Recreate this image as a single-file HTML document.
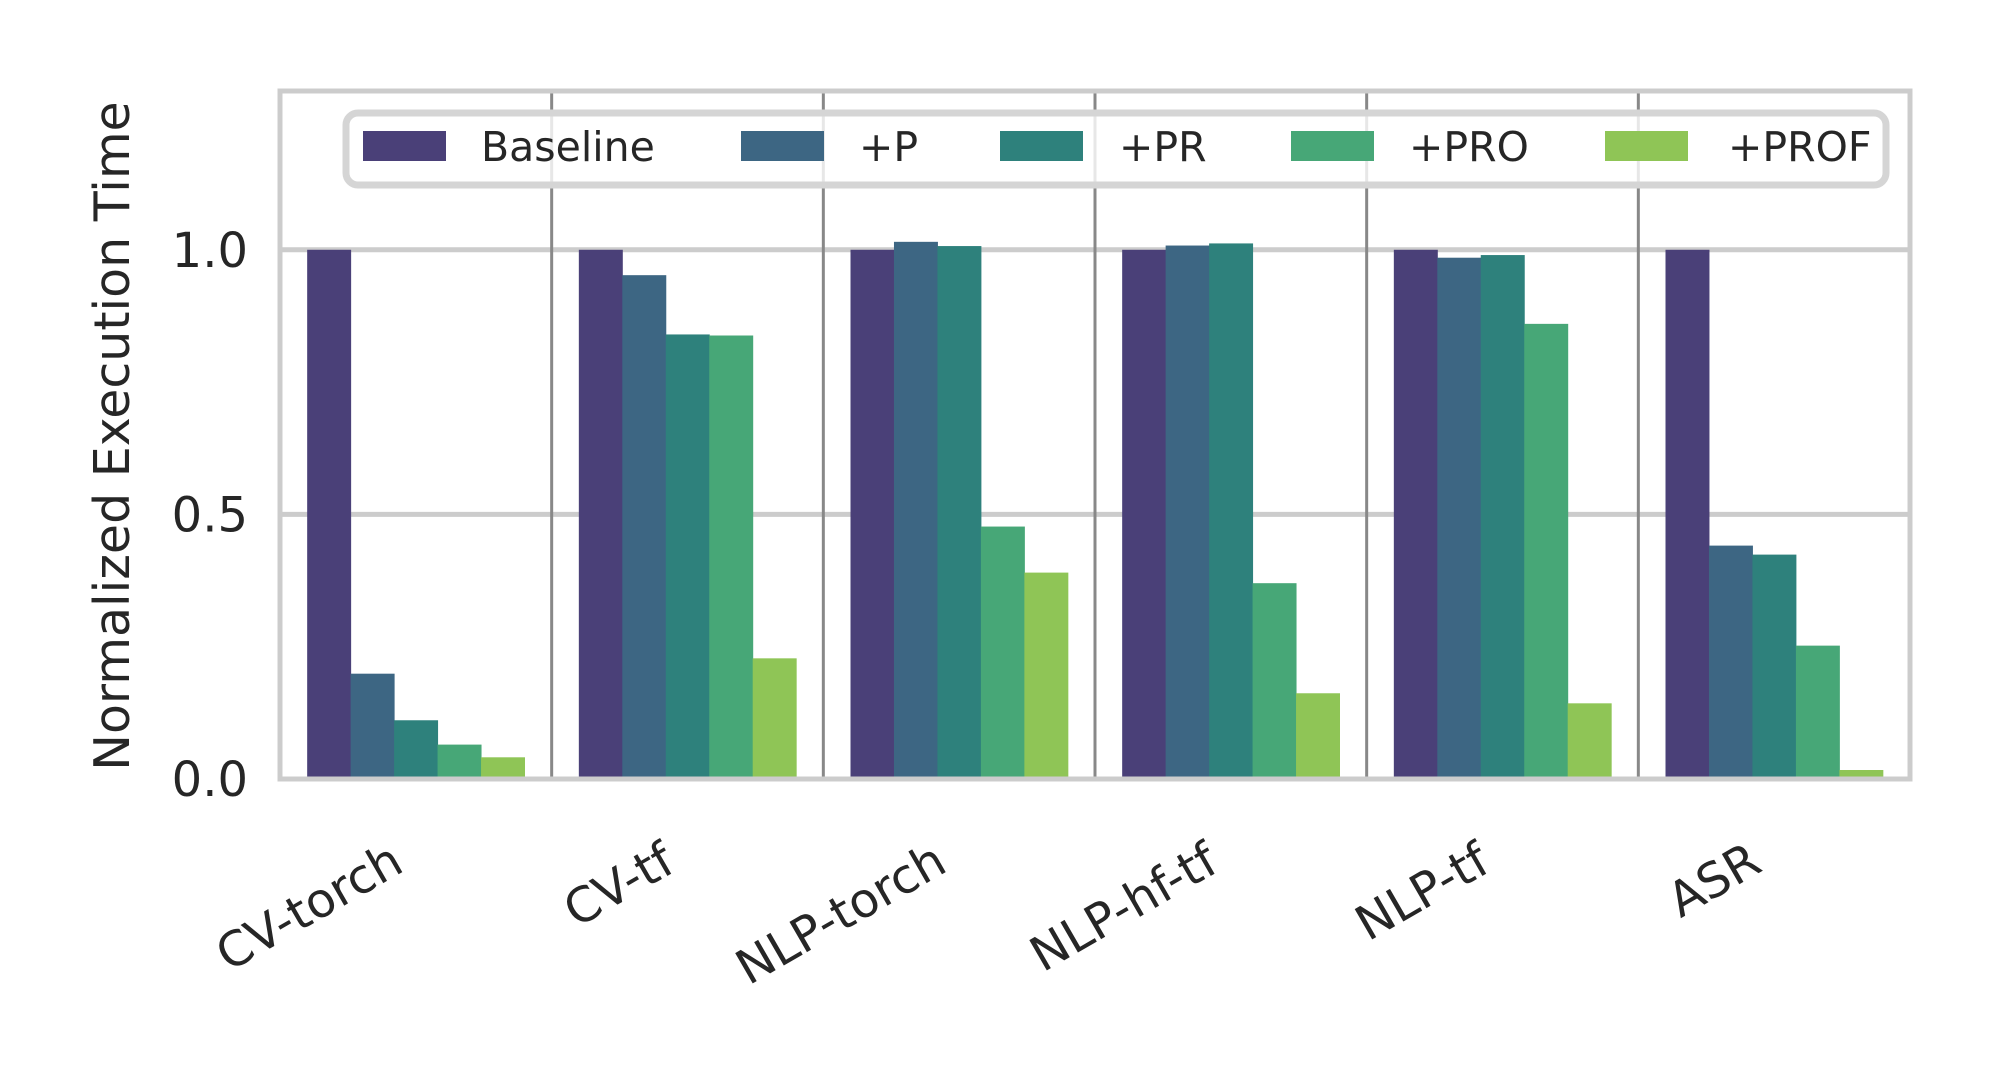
<!DOCTYPE html>
<html><head><meta charset="utf-8">
<style>
html,body{margin:0;padding:0;background:#fff;}
svg{display:block;font-family:"DejaVu Sans","Liberation Sans",sans-serif;}
</style></head>
<body>
<svg id="chart" width="1998" height="1080" viewBox="0 0 1998 1080" xmlns="http://www.w3.org/2000/svg">
<rect x="0" y="0" width="1998" height="1080" fill="#fff"/>
<g id="grid"></g>
<g id="bars"></g>
<g id="dividers"></g>
<rect x="280" y="91" width="1630" height="688" fill="none" stroke="#cccccc" stroke-width="5"/>
<g id="yticks"></g>
<g id="xticks"></g>
<text transform="translate(129,436) rotate(-90)" text-anchor="middle" font-size="49" fill="#262626">Normalized Execution Time</text>
<g id="legend"></g>
</svg>
<script>
const categories = ["CV-torch","CV-tf","NLP-torch","NLP-hf-tf","NLP-tf","ASR"];
const seriesNames = ["Baseline","+P","+PR","+PRO","+PROF"];
const baseline = [1,1,1,1,1,1];
const plusP    = [0.199,0.952,1.015,1.008,0.985,0.441];
const plusPR   = [0.111,0.840,1.007,1.012,0.990,0.424];
const plusPRO  = [0.065,0.838,0.477,0.370,0.860,0.252];
const plusPROF = [0.041,0.228,0.390,0.162,0.143,0.017];
const yTicks = [0.0,0.5,1.0];
const yTickLabels = ["0.0","0.5","1.0"];

const series = [baseline, plusP, plusPR, plusPRO, plusPROF];
const colors = ["#4a4078","#3d6683","#2e817c","#47a777","#8fc556"];
const NS = "http://www.w3.org/2000/svg";
const L=280, R=1910, T=91, B=779, yMax=1.3;
const groupW=(R-L)/categories.length, barW=groupW*0.8/series.length;
function y(v){return B-(v/yMax)*(B-T);}
function gx(i){return L+groupW*i;}
function mk(tag,attrs,parent){const e=document.createElementNS(NS,tag);for(const k in attrs)e.setAttribute(k,attrs[k]);document.getElementById(parent).appendChild(e);return e;}

yTicks.forEach((t,i)=>{
  if(t>0){
    const g=mk("line",{x1:L,x2:R,y1:y(t),y2:y(t),stroke:"#cccccc","stroke-width":5},"grid");
    
    
  }
  const tx=mk("text",{x:L-32,y:y(t)+17,"text-anchor":"end","font-size":48,fill:"#262626"},"yticks");
  tx.textContent=yTickLabels[i];
  
  
});

categories.forEach((c,ci)=>{
  series.forEach((s,si)=>{
    const x=gx(ci)+groupW*0.1+barW*si;
    const r=mk("rect",{x:x,y:y(s[ci]),width:barW+0.5,height:B-y(s[ci]),fill:colors[si]},"bars");
    
    
  });
  if(ci>0){
    const d=mk("line",{x1:gx(ci),x2:gx(ci),y1:T,y2:B,stroke:"#888","stroke-width":3},"dividers");
    
    
  }
  const cx=gx(ci)+groupW/2;
  const t=mk("text",{transform:"translate("+(cx-10)+",870) rotate(-30)","text-anchor":"end","font-size":48,fill:"#262626"},"xticks");
  t.textContent=c;
  
  
});

const lg=mk("rect",{x:346,y:113,width:1540,height:72,rx:12,fill:"#fff","fill-opacity":0.8,stroke:"#d5d5d5","stroke-width":7},"legend");


const patchX=[363,741,1000,1291,1605], textX=[481,859,1119,1409,1728];
seriesNames.forEach((n,i)=>{
  const p=mk("rect",{x:patchX[i],y:131,width:83,height:30,fill:colors[i]},"legend");
  
  
  const t=mk("text",{x:textX[i],y:161,"font-size":41,fill:"#262626"},"legend");
  t.textContent=n;
  
  
});
</script>
</body></html>
